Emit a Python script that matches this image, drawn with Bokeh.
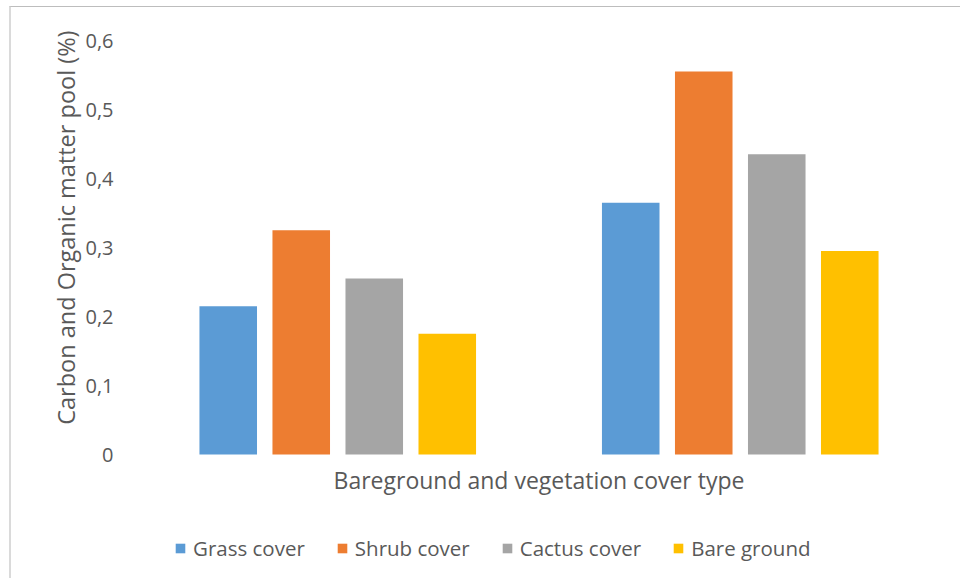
from bokeh.plotting import figure
from bokeh.models import Legend, LegendItem, CustomJSTickFormatter, FixedTicker, Label, Title
from bokeh.embed import file_html
from bokeh.resources import INLINE

# Data
groups = [0.5, 1.5]  # two cover-type groups (no category labels in the original)
series = ["Grass cover", "Shrub cover", "Cactus cover", "Bare ground"]
grass = [0.215, 0.365]
shrub = [0.325, 0.555]
cactus = [0.255, 0.435]
bare = [0.175, 0.295]
colors = ["#5B9BD5", "#ED7D31", "#A5A5A5", "#FFC000"]
y_ticks = [0, 0.1, 0.2, 0.3, 0.4, 0.5, 0.6]
x_title = "Bareground and vegetation cover type"
y_title = "Carbon and Organic matter pool (%)"

FONT = "Open Sans"
TXT = "#595959"

# frame: x 136..941, y 40..579 ; value 0 sits at y=454, 0.6 at y=40
px_per_unit = 414 / 0.6
y_start = -(579 - 454) / px_per_unit

p = figure(width=951, height=572, x_range=(0, 2), y_range=(y_start, 0.6),
           output_backend="svg", toolbar_location=None, x_axis_location=None,
           min_border_left=125, min_border_right=21, min_border_top=33,
           min_border_bottom=0)
p.styles = {"margin-left": "9px", "margin-top": "6px",
            "border-top": "1px solid #bdbdbd", "border-left": "2px solid #dadada"}

step = 0.1814
width = 0.143
offsets = [-1.5 * step, -0.5 * step, 0.5 * step, 1.5 * step]
renderers = []
for vals, off, col in zip([grass, shrub, cactus, bare], offsets, colors):
    r = p.vbar(x=[g + off for g in groups], top=vals, width=width,
               fill_color=col, line_color=None)
    renderers.append(r)

p.xgrid.visible = False
p.ygrid.visible = False
p.outline_line_color = None

# y axis
p.yaxis.ticker = FixedTicker(ticks=y_ticks)
p.yaxis.formatter = CustomJSTickFormatter(
    code="return tick == 0 ? '0' : tick.toFixed(1).replace('.', ',');")
p.yaxis.axis_line_color = None
p.yaxis.major_tick_line_color = None
p.yaxis.minor_tick_line_color = None
p.yaxis.major_tick_out = 0
p.yaxis.major_tick_in = 0
p.yaxis.minor_tick_out = 0
p.yaxis.major_label_standoff = 23
p.yaxis.major_label_text_font = FONT
p.yaxis.major_label_text_font_size = "20px"
p.yaxis.major_label_text_color = TXT

ytitle = Title(text=y_title, align="right", offset=-10, vertical_align="middle",
               text_font=FONT, text_font_size="23.5px", text_font_style="normal",
               text_color=TXT, standoff=0)
p.add_layout(ytitle, "left")

# x axis title (drawn below the zero line)
xlab = Label(x=1.0, y=100, y_units="screen", text=x_title, text_align="center",
             text_baseline="alphabetic", text_font=FONT, text_font_size="23px",
             text_color=TXT)
p.add_layout(xlab)

legend = Legend(items=[LegendItem(label=s, renderers=[r]) for s, r in zip(series, renderers)],
                orientation="horizontal", location=(38, 17))
legend.label_text_font = FONT
legend.label_text_font_size = "20.5px"
legend.label_text_color = TXT
legend.glyph_width = 12
legend.glyph_height = 12
legend.label_standoff = 7
legend.spacing = 31
legend.padding = 0
legend.margin = 0
legend.border_line_color = None
legend.background_fill_alpha = 0
p.add_layout(legend, "center")

open("out.html", "w").write(file_html(p, INLINE))
